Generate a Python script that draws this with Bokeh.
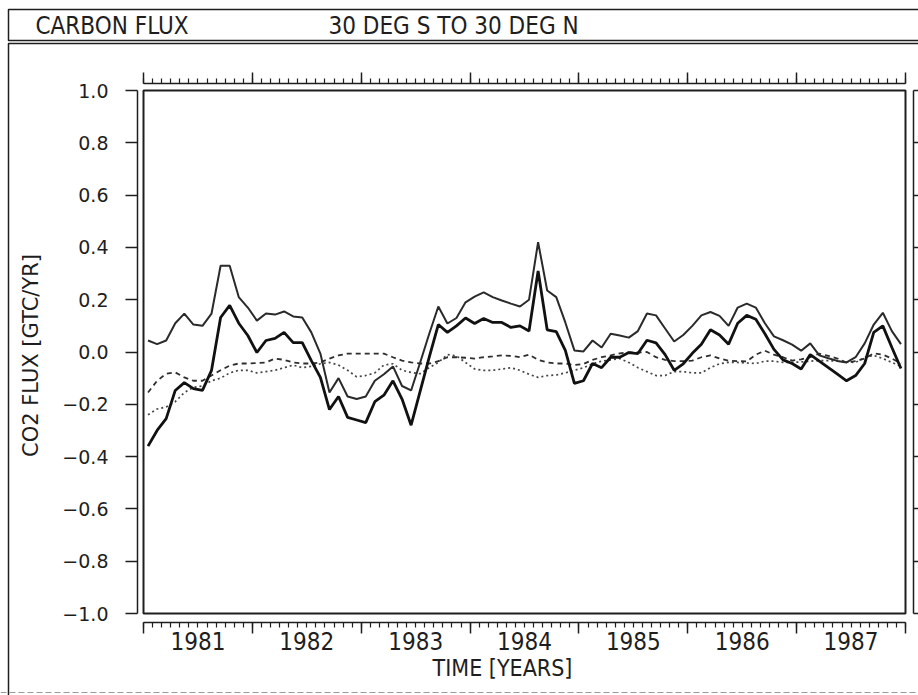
from bokeh.plotting import figure
from bokeh.models import (Range1d, LinearAxis, FixedTicker, BoxAnnotation, Label, Span,
                          ColumnDataSource)
from bokeh.embed import file_html
from bokeh.resources import INLINE

# ---------------- data (monthly values, Jan 1981 .. Dec 1987) ----------------
start_year = 1981
n_months = 84

flux_upper = [0.044, 0.03, 0.044, 0.11, 0.147, 0.105, 0.10, 0.147, 0.33, 0.33, 0.21, 0.17,
              0.12, 0.147, 0.143, 0.155, 0.136, 0.132, 0.075, -0.006, -0.155, -0.10, -0.17, -0.18,
              -0.17, -0.11, -0.085, -0.055, -0.13, -0.147, -0.04, 0.07, 0.174, 0.109, 0.13, 0.19,
              0.212, 0.228, 0.21, 0.197, 0.185, 0.174, 0.20, 0.42, 0.235, 0.21, 0.113, 0.006,
              0.002, 0.044, 0.017, 0.07, 0.063, 0.055, 0.08, 0.147, 0.14, 0.09, 0.04, 0.065,
              0.10, 0.14, 0.153, 0.138, 0.10, 0.17, 0.185, 0.17, 0.11, 0.06, 0.045, 0.028,
              0.005, 0.033, -0.013, -0.024, -0.034, -0.04, -0.02, 0.033, 0.105, 0.15, 0.08, 0.03]

flux_lower = [-0.36, -0.30, -0.255, -0.147, -0.117, -0.14, -0.147, -0.07, 0.132, 0.178, 0.11, 0.063,
              -0.002, 0.044, 0.052, 0.075, 0.036, 0.036, -0.033, -0.097, -0.22, -0.17, -0.25, -0.26,
              -0.27, -0.19, -0.165, -0.11, -0.18, -0.28, -0.15, -0.02, 0.105, 0.075, 0.10, 0.13,
              0.109, 0.128, 0.113, 0.113, 0.094, 0.10, 0.08, 0.31, 0.085, 0.078, 0.006, -0.12,
              -0.11, -0.044, -0.06, -0.02, -0.02, -0.002, -0.006, 0.045, 0.035, -0.01, -0.07, -0.045,
              -0.005, 0.03, 0.085, 0.065, 0.03, 0.11, 0.14, 0.125, 0.07, 0.01, -0.03, -0.044,
              -0.065, -0.01, -0.035, -0.06, -0.085, -0.11, -0.09, -0.044, 0.075, 0.10, 0.017, -0.063]

flux_dashed = [-0.155, -0.11, -0.083, -0.078, -0.097, -0.11, -0.11, -0.09, -0.07, -0.052, -0.044, -0.044,
               -0.042, -0.04, -0.025, -0.03, -0.04, -0.044, -0.044, -0.04, -0.025, -0.013, -0.006, -0.006,
               -0.006, -0.006, -0.006, -0.02, -0.033, -0.04, -0.044, -0.044, -0.035, -0.02, -0.02, -0.022,
               -0.025, -0.02, -0.017, -0.013, -0.015, -0.02, -0.01, -0.03, -0.04, -0.044, -0.044, -0.05,
               -0.046, -0.03, -0.02, -0.013, -0.005, -0.002, -0.002, 0.0, -0.02, -0.03, -0.035, -0.035,
               -0.033, -0.02, -0.013, -0.025, -0.033, -0.035, -0.036, -0.01, 0.005, -0.01, -0.02, -0.033,
               -0.028, -0.02, -0.006, -0.015, -0.025, -0.04, -0.035, -0.025, -0.005, -0.01, -0.025, -0.044]

flux_dotted = [-0.24, -0.218, -0.21, -0.19, -0.155, -0.135, -0.13, -0.11, -0.10, -0.08, -0.07, -0.07,
               -0.08, -0.075, -0.07, -0.06, -0.05, -0.06, -0.055, -0.045, -0.04, -0.05, -0.07, -0.095,
               -0.09, -0.08, -0.05, -0.045, -0.07, -0.078, -0.083, -0.06, -0.04, -0.01, -0.015, -0.04,
               -0.065, -0.07, -0.07, -0.065, -0.06, -0.07, -0.085, -0.097, -0.09, -0.088, -0.08, -0.07,
               -0.06, -0.045, -0.035, -0.03, -0.025, -0.04, -0.06, -0.075, -0.09, -0.09, -0.075, -0.075,
               -0.08, -0.08, -0.06, -0.045, -0.04, -0.04, -0.042, -0.044, -0.035, -0.035, -0.04, -0.04,
               -0.038, -0.035, -0.033, -0.033, -0.035, -0.038, -0.04, -0.02, -0.013, -0.025, -0.04, -0.055]

year_labels = ["1981", "1982", "1983", "1984", "1985", "1986", "1987"]
y_tick_values = [-1.0, -0.8, -0.6, -0.4, -0.2, 0.0, 0.2, 0.4, 0.6, 0.8, 1.0]
y_tick_labels = ["\u22121.0", "\u22120.8", "\u22120.6", "\u22120.4", "\u22120.2", "0.0",
                 "0.2", "0.4", "0.6", "0.8", "1.0"]

title_left = "CARBON FLUX"
title_right = "30 DEG S TO 30 DEG N"
x_title = "TIME [YEARS]"
y_title = "CO2 FLUX [GTC/YR]"

# ---------------- layout (canvas pixels; the page has no body margin) ----------------
W, H = 918, 695
BOX_L, BOX_R, BOX_T, BOX_B = 143, 905, 90, 613
X0, X1 = 1981.0, 1988.0
Y0, Y1 = -1.0, 1.0
XPPU = (BOX_R - BOX_L) / (X1 - X0)
YPPU = (BOX_B - BOX_T) / (Y1 - Y0)


def xd(px):
    return X0 + (px - BOX_L) / XPPU


def yd(py):
    return Y1 - (py - BOX_T) / YPPU


# ---------------- derived ----------------
t = [start_year + (i + 0.5) / 12 for i in range(n_months)]
src = ColumnDataSource(dict(t=t, up=flux_upper, lo=flux_lower, da=flux_dashed, do=flux_dotted))
year_bounds = [start_year + k for k in range(len(year_labels) + 1)]
year_mids = [start_year + k + 0.5 for k in range(len(year_labels))]
month_ticks = [start_year + m / 12 for m in range(n_months + 1)]

INK = "#1e1e1e"
NARROW = "'Liberation Sans Narrow', 'DejaVu Sans Condensed', 'Liberation Sans', sans-serif"
ROUND = "'DejaVu Sans', sans-serif"

p = figure(width=W, height=H,
           x_range=Range1d(xd(0), xd(W)), y_range=Range1d(yd(H), yd(0)),
           output_backend="svg", toolbar_location=None,
           x_axis_location=None, y_axis_location=None,
           min_border=0, min_border_left=0, min_border_right=0,
           min_border_top=0, min_border_bottom=0)
p.grid.visible = False
p.outline_line_color = None
p.background_fill_color = "white"
p.border_fill_color = "white"


def tick_axis(ticks, minor, out_major, out_minor, loc, bounds):
    return LinearAxis(ticker=FixedTicker(ticks=ticks, minor_ticks=minor), fixed_location=loc,
                      bounds=bounds,
                      axis_line_color=INK, axis_line_width=1.5,
                      major_tick_line_color=INK, major_tick_line_width=1.5,
                      minor_tick_line_color=INK, minor_tick_line_width=1.2,
                      major_tick_out=out_major, major_tick_in=0,
                      minor_tick_out=out_minor, minor_tick_in=0,
                      major_label_text_color=None, major_label_text_alpha=0)


# bottom: monthly tick axis + year labels
p.add_layout(tick_axis(year_bounds, month_ticks, 11, 5, yd(622), (X0, X1)), "below")
xl = LinearAxis(ticker=FixedTicker(ticks=year_mids, minor_ticks=[]), fixed_location=yd(626),
                bounds=(X0, X1),
                major_label_overrides={m: s for m, s in zip(year_mids, year_labels)},
                axis_line_color=None, major_tick_line_color=None, minor_tick_line_color=None,
                major_tick_out=0, major_tick_in=0, minor_tick_out=0, minor_tick_in=0,
                major_label_standoff=5)
xl.major_label_text_font = NARROW
xl.major_label_text_font_size = "24px"
xl.major_label_text_color = INK
p.add_layout(xl, "below")

# top tick axis
p.add_layout(tick_axis(year_bounds, month_ticks, 11, 5, yd(83), (X0, X1)), "above")

# left labelled axis
yl = LinearAxis(ticker=FixedTicker(ticks=y_tick_values, minor_ticks=[]), fixed_location=xd(137),
                bounds=(Y0, Y1),
                major_label_overrides={v: s for v, s in zip(y_tick_values, y_tick_labels)},
                axis_line_color=INK, axis_line_width=1.5,
                major_tick_line_color=INK, major_tick_line_width=1.5,
                major_tick_out=12, major_tick_in=0, minor_tick_out=0, minor_tick_in=0,
                major_label_standoff=17)
yl.major_label_text_font = ROUND
yl.major_label_text_font_size = "19px"
yl.major_label_text_color = INK
p.add_layout(yl, "left")

# right tick axis
p.add_layout(tick_axis(y_tick_values, [], 5, 0, xd(913), (Y0, Y1)), "right")

# plot box
p.add_layout(BoxAnnotation(left=X0, right=X1, bottom=Y0, top=Y1,
                           fill_color=None, fill_alpha=0, line_color=INK, line_alpha=1.0,
                           line_width=2))

# ---------------- series ----------------
p.line("t", "do", source=src, line_color="#444444", line_width=1.7, line_dash="2 3")
p.line("t", "da", source=src, line_color="#2e2e2e", line_width=1.8, line_dash="5 4")
p.line("t", "up", source=src, line_color="#2a2a2a", line_width=2.0)
p.line("t", "lo", source=src, line_color="#111111", line_width=2.8)

# ---------------- axis titles ----------------
p.add_layout(Label(x=502, y=667, x_units="canvas", y_units="canvas", text=x_title,
                   text_align="center", text_baseline="middle", text_font=NARROW,
                   text_font_size="23px", text_color=INK))
p.add_layout(Label(x=30, y=355, x_units="canvas", y_units="canvas", text=y_title,
                   angle=90, angle_units="deg",
                   text_align="center", text_baseline="middle", text_font=ROUND,
                   text_font_size="21px", text_color=INK))

# ---------------- header and page frame ----------------
p.add_layout(BoxAnnotation(left=8, right=960, top=9, bottom=40,
                           left_units="canvas", right_units="canvas",
                           top_units="canvas", bottom_units="canvas",
                           fill_color=None, fill_alpha=0, line_color=INK, line_alpha=1.0,
                           line_width=1.5))
p.add_layout(BoxAnnotation(left=8, right=960, top=43, bottom=760,
                           left_units="canvas", right_units="canvas",
                           top_units="canvas", bottom_units="canvas",
                           fill_color=None, fill_alpha=0, line_color=INK, line_alpha=1.0,
                           line_width=1.5))
p.add_layout(Span(location=692, location_units="canvas", dimension="width",
                  line_color="#9a9a9a", line_width=1.2, line_dash="6 3"))
p.add_layout(Label(x=35, y=25, x_units="canvas", y_units="canvas", text=title_left,
                   text_baseline="middle", text_align="left", text_font=NARROW,
                   text_font_size="24px", text_color=INK))
p.add_layout(Label(x=328, y=25, x_units="canvas", y_units="canvas", text=title_right,
                   text_baseline="middle", text_align="left", text_font=NARROW,
                   text_font_size="24px", text_color=INK))

open("out.html", "w").write(file_html(p, INLINE))
